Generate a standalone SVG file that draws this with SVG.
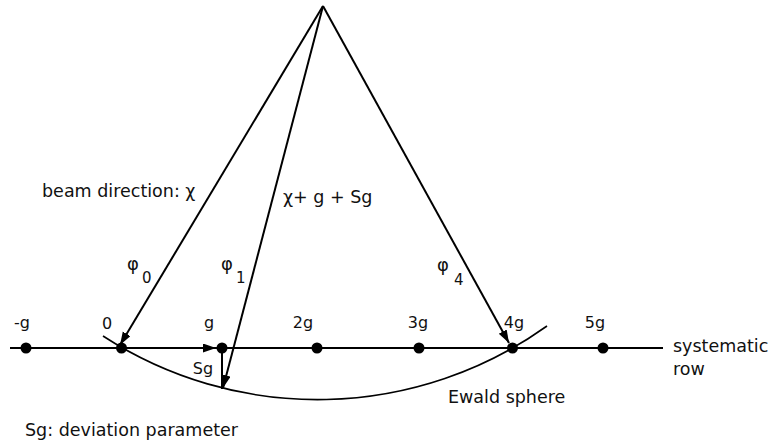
<svg xmlns="http://www.w3.org/2000/svg" width="774" height="447" viewBox="0 0 774 447">
<defs>
<marker id="ah" markerUnits="userSpaceOnUse" markerWidth="14" markerHeight="10" refX="13" refY="4.5" orient="auto">
<path d="M0,0 L13,4.5 L0,9 z" fill="#000"/>
</marker>
<style>
text{font-family:"DejaVu Sans","Liberation Sans",sans-serif;fill:#111;}
.lbl{font-size:17.5px;}
.tick{font-size:16px;text-anchor:middle;}
.phi{font-size:18px;}
.sub{font-size:15px;}
.dot{fill:#000;}
.ln{stroke:#000;stroke-width:2;fill:none;}
.arr{stroke:#000;stroke-width:2;fill:none;marker-end:url(#ah);}
</style>
</defs>
<rect width="774" height="447" fill="#fff"/>
<g id="row">
<line class="ln" x1="10" y1="348" x2="663" y2="348"/>
<text class="lbl" x="673" y="352">systematic</text>
<text class="lbl" x="673" y="375">row</text>
</g>
<g id="ewald">
<path d="M103,336 A394,394 0 0 0 547,326" stroke="#000" stroke-width="1.6" fill="none"/>
<text class="lbl" x="448" y="403">Ewald sphere</text>
</g>
<g id="connectors">
<line class="arr" x1="323" y1="6" x2="120" y2="345"/>
<line class="arr" x1="323" y1="6" x2="223" y2="388"/>
<line class="arr" x1="323" y1="6" x2="509" y2="343"/>
<line class="arr" x1="121" y1="348" x2="216" y2="348"/>
<line class="ln" x1="222" y1="348" x2="222" y2="389"/>
</g>
<g id="node-mg"><circle class="dot" cx="26" cy="348" r="5.5"/><text class="tick" x="22" y="328">-g</text></g>
<g id="node-0"><circle class="dot" cx="121.5" cy="348" r="5.5"/><text class="tick" x="107" y="329">0</text></g>
<g id="node-g"><circle class="dot" cx="222" cy="348" r="5.5"/><text class="tick" x="209" y="328">g</text></g>
<g id="node-2g"><circle class="dot" cx="317" cy="348" r="5.5"/><text class="tick" x="303" y="328">2g</text></g>
<g id="node-3g"><circle class="dot" cx="419" cy="348" r="5.5"/><text class="tick" x="418" y="328">3g</text></g>
<g id="node-4g"><circle class="dot" cx="512.5" cy="348" r="5.5"/><text class="tick" x="514" y="328">4g</text></g>
<g id="node-5g"><circle class="dot" cx="603" cy="348" r="5.5"/><text class="tick" x="595" y="328">5g</text></g>
<g id="labels">
<text class="lbl" x="42" y="197">beam direction: χ</text>
<text class="lbl" x="283" y="203">χ+ g + Sg</text>
<text class="phi" x="127" y="270">φ</text><text class="sub" x="142" y="283">0</text>
<text class="phi" x="221" y="270">φ</text><text class="sub" x="236" y="283">1</text>
<text class="phi" x="437" y="271">φ</text><text class="sub" x="454" y="285">4</text>
<text class="tick" x="203" y="374">Sg</text>
<text class="lbl" x="25" y="436">Sg: deviation parameter</text>
</g>
</svg>
